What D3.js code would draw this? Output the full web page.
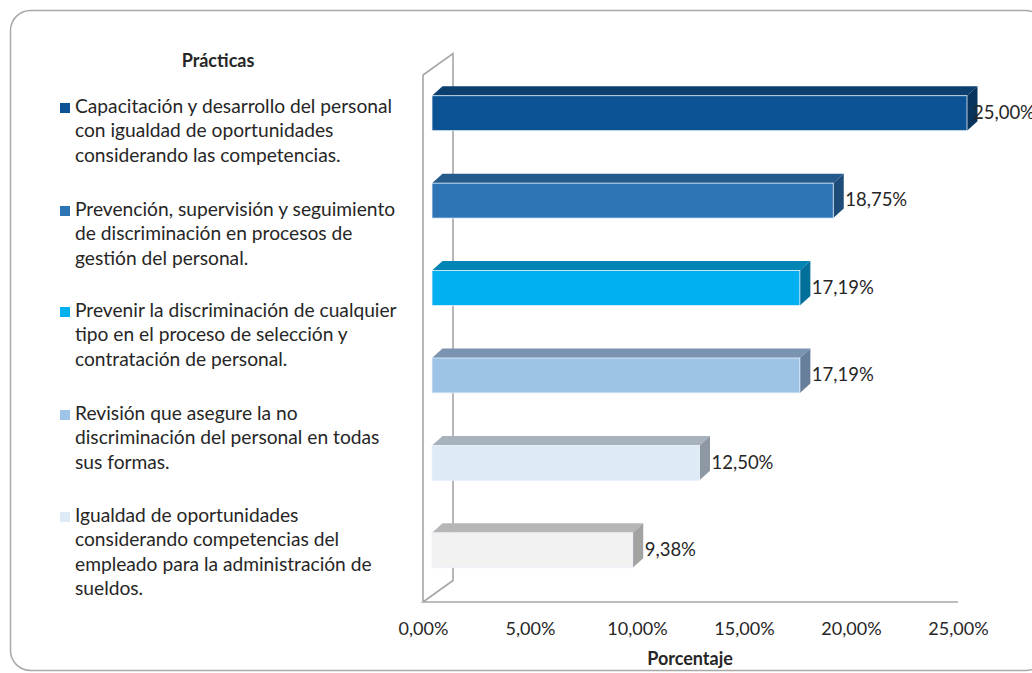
<!DOCTYPE html>
<html>
<head>
<meta charset="utf-8">
<script src="https://cdn.jsdelivr.net/npm/d3@7"></script>
<style>
  html, body { margin: 0; padding: 0; background: #ffffff; }
  svg { display: block; font-family: Lato, "Open Sans", sans-serif; }
</style>
</head>
<body>
<svg id="chart" width="1032" height="673"></svg>
<script>
// ---- data ----
const categories = [
  "Capacitación y desarrollo del personal con igualdad de oportunidades considerando las competencias.",
  "Prevención, supervisión y seguimiento de discriminación en procesos de gestión del personal.",
  "Prevenir la discriminación de cualquier tipo en el proceso de selección y contratación de personal.",
  "Revisión que asegure la no discriminación del personal en todas sus formas.",
  "Igualdad de oportunidades considerando competencias del empleado para la administración de sueldos.",
  "Sin categoría"
];
const values = [0.25, 0.1875, 0.1719, 0.1719, 0.125, 0.0938];
const valueLabels = ["25,00%", "18,75%", "17,19%", "17,19%", "12,50%", "9,38%"];
const tickValues = [0, 0.05, 0.10, 0.15, 0.20, 0.25];
const legendTitle = "Prácticas";
const legendLines = [
  ["Capacitación y desarrollo del personal", "con igualdad de oportunidades", "considerando las competencias."],
  ["Prevención, supervisión y seguimiento", "de discriminación en procesos de", "gestión del personal."],
  ["Prevenir la discriminación de cualquier", "tipo en el proceso de selección y", "contratación de personal."],
  ["Revisión que asegure la no", "discriminación del personal en todas", "sus formas."],
  ["Igualdad de oportunidades", "considerando competencias del", "empleado para la administración de", "sueldos."]
];
const axisTitle = "Porcentaje";

// ---- styles ----
const frontColors = ["#0b5394", "#2e75b6", "#00b0f0", "#9dc3e6", "#deebf7", "#f2f2f2"];
const topColors   = ["#0a3f70", "#245a8c", "#0085b5", "#7a93b0", "#a7b2bd", "#b6b6b6"];
const sideColors  = ["#08345c", "#1d4c78", "#006f99", "#677f9a", "#8e98a2", "#a2a2a2"];
const legendColors = ["#0b5394", "#2e75b6", "#00b0f0", "#9dc3e6", "#deebf7"];
const textColor = "#262626";
const wallColor = "#a6a6a6";

const svg = d3.select("#chart");

// frame
svg.append("rect")
  .attr("x", 10.5).attr("y", 10.5)
  .attr("width", 1035).attr("height", 660)
  .attr("rx", 20).attr("ry", 20)
  .attr("fill", "#fff")
  .attr("stroke", "#a8a8a8").attr("stroke-width", 1.5);

// scales
const x = d3.scaleLinear().domain([0, 0.25]).range([432, 967]);
const axisShift = -9;               // front axis offset relative to bar faces
const y = d3.scaleBand().domain(d3.range(values.length))
  .range([69.5, 594]).paddingInner(0.6).paddingOuter(0.3);

// 3D walls
const wallDx = 30, wallDy = -21.5;
const x0 = x(0) + axisShift, x1 = x(0.25) + axisShift;
const yTop = 75, yBot = 602;
const walls = svg.append("g").attr("fill", "none").attr("stroke", wallColor).attr("stroke-width", 1.6);
walls.append("path").attr("d",
  `M${x0},${yBot} L${x0},${yTop} L${x0 + wallDx},${yTop + wallDy} L${x0 + wallDx},${yBot + wallDy} L${x0},${yBot} L${x1},${yBot}`);

// bars
const bdx = 10.5, bdy = -9.5;
const bars = svg.append("g");
values.forEach((v, i) => {
  const xa = x(0), xb = x(v), ya = y(i), yb = y(i) + y.bandwidth();
  bars.append("path")
    .attr("d", `M${xa},${ya} L${xa + bdx},${ya + bdy} L${xb + bdx},${ya + bdy} L${xb},${ya} Z`)
    .attr("fill", topColors[i]);
  bars.append("path")
    .attr("d", `M${xb},${ya} L${xb + bdx},${ya + bdy} L${xb + bdx},${yb + bdy} L${xb},${yb} Z`)
    .attr("fill", sideColors[i]);
  bars.append("rect")
    .attr("x", xa).attr("y", ya).attr("width", xb - xa).attr("height", yb - ya)
    .attr("fill", frontColors[i])
    .attr("stroke", "#e8f1fa").attr("stroke-width", 0.8);
  svg.append("text")
    .attr("x", xb + (i === 0 ? 6 : 12)).attr("y", ya + y.bandwidth() / 2 + 1)
    .attr("dominant-baseline", "middle")
    .attr("font-size", 18.5).attr("fill", textColor)
    .text(valueLabels[i]);
});

// x axis labels
const locale = d3.formatLocale({decimal: ",", thousands: ".", grouping: [3], currency: ["", "€"]});
const fmt = locale.format(".2%");
const axisScale = x.copy().range([x0, x1]);
const axis = d3.axisBottom(axisScale).tickValues(tickValues).tickFormat(fmt).tickSize(0).tickPadding(0);
const ax = svg.append("g").attr("transform", `translate(0,${yBot + 20})`).call(axis);
ax.select(".domain").remove();
ax.selectAll("text").attr("font-size", 18).attr("fill", textColor)
  .attr("font-family", "Lato, 'Open Sans', sans-serif");

svg.append("text")
  .attr("x", 690).attr("y", 660).attr("text-anchor", "middle").attr("dominant-baseline", "middle")
  .attr("font-size", 18).attr("font-weight", "bold").attr("fill", textColor)
  .text(axisTitle);

// legend
svg.append("text")
  .attr("x", 218).attr("y", 62).attr("text-anchor", "middle").attr("dominant-baseline", "middle")
  .attr("font-size", 18).attr("font-weight", "bold").attr("fill", textColor)
  .text(legendTitle);

const legendY = [108, 211, 312, 415, 517];
const lineH = 24.5;
const lg = svg.append("g");
legendLines.forEach((lines, i) => {
  lg.append("rect")
    .attr("x", 60).attr("y", legendY[i] - 5).attr("width", 10).attr("height", 10)
    .attr("fill", legendColors[i]);
  lines.forEach((ln, j) => {
    lg.append("text")
      .attr("x", 75).attr("y", legendY[i] + j * lineH)
      .attr("dominant-baseline", "middle")
      .attr("font-size", 19.2).attr("fill", textColor)
      .text(ln);
  });
});
</script>
</body>
</html>
